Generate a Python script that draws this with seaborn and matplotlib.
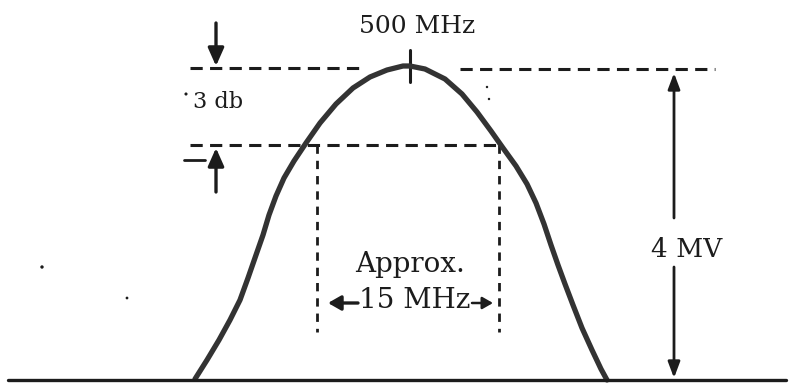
import matplotlib
matplotlib.use("Agg")
import matplotlib.pyplot as plt
import seaborn as sns

# Resonance curve (pixel coords, y grows downward)
curve_x = [195, 207, 219, 230, 240, 248, 256, 263, 269, 276, 284, 294, 306,
           320, 336, 353, 370, 387, 403, 410, 425, 445, 462, 477, 491, 503,
           516, 527, 536, 544, 551, 558, 565, 573, 582, 592, 601, 607]
curve_y = [379, 360, 340, 320, 300, 278, 255, 235, 215, 196, 178, 161, 143,
           123, 104, 88, 77, 70, 66, 66, 69, 79, 94, 112, 131, 148,
           166, 184, 203, 224, 245, 265, 284, 305, 328, 350, 369, 380]

peak_y = 68          # top dashed level
half_y = 145         # -3 db level
band_x = [317, 499]  # approx. 15 MHz band edges
base_y = 380

labels = {"peak": "500 MHz", "db": "3 db", "approx": "Approx.",
          "bw": "15 MHz", "mv": "4 MV"}

sns.set_theme(style="white")
plt.rcParams["font.family"] = ["DejaVu Serif", "DejaVu Sans"]

ink = "#1c1c1c"
fig = plt.figure(figsize=(7.89, 3.83), dpi=100)
ax = fig.add_axes([0, 0, 1, 1])
ax.set_xlim(0, 789)
ax.set_ylim(383, 0)
ax.axis("off")

# dashed reference levels
dash = dict(color=ink, lw=2.2, linestyle=(0, (4.0, 2.4)))
ax.plot([190, 365], [peak_y, peak_y], **dash)
ax.plot([460, 715], [peak_y + 1, peak_y + 1], **dash)
ax.plot([190, band_x[1]], [half_y, half_y], **dash)
vdash = dict(color=ink, lw=2.0, linestyle=(0, (3.0, 2.5)))
for bx in band_x:
    ax.plot([bx, bx], [half_y, 332], **vdash)

# peak tick
ax.plot([410, 410], [50, 82], color=ink, lw=2.2)

# the curve
sns.lineplot(x=curve_x, y=curve_y, ax=ax, color="#333333", lw=3.8, sort=False,
             solid_joinstyle="round", solid_capstyle="round")

# baseline
ax.plot([8, 786], [base_y, base_y], color=ink, lw=2.4)

def arrow(x0, y0, x1, y1, lw=2.4, hl=0.9, hw=0.4, ms=12):
    ax.annotate("", xy=(x1, y1), xytext=(x0, y0),
                arrowprops=dict(arrowstyle=f"-|>,head_length={hl},head_width={hw}",
                                color=ink, lw=lw, shrinkA=0, shrinkB=0,
                                mutation_scale=ms))

# -3 db markers
arrow(216, 23, 216, 66)
arrow(216, 192, 216, 148)
ax.plot([184, 205], [160, 160], color=ink, lw=2.0)

# 4 MV markers
arrow(674, 218, 674, 73, lw=2.0, hl=0.8, hw=0.3)
arrow(674, 267, 674, 378, lw=2.0, hl=0.8, hw=0.3)

# bandwidth arrows
arrow(358, 303, 328, 303, lw=2.4, hl=0.7, hw=0.4, ms=11)
arrow(472, 303, 493, 303, lw=1.8, hl=0.7, hw=0.4, ms=9)

# scan specks
ax.scatter([186, 42, 127, 487, 489], [94, 267, 298, 87, 99], s=[5, 6, 4, 3, 3],
           color=ink, linewidths=0)

ax.text(417, 33, labels["peak"], ha="center", va="baseline", fontsize=18, color=ink)
ax.text(193, 108, labels["db"], ha="left", va="baseline", fontsize=16, color=ink)
ax.text(410, 272, labels["approx"], ha="center", va="baseline", fontsize=20, color=ink)
ax.text(415, 308, labels["bw"], ha="center", va="baseline", fontsize=20, color=ink)
ax.text(687, 257, labels["mv"], ha="center", va="baseline", fontsize=19, color=ink,
        bbox=dict(facecolor="white", edgecolor="none", pad=0))

fig.savefig("out.png", dpi=100)
